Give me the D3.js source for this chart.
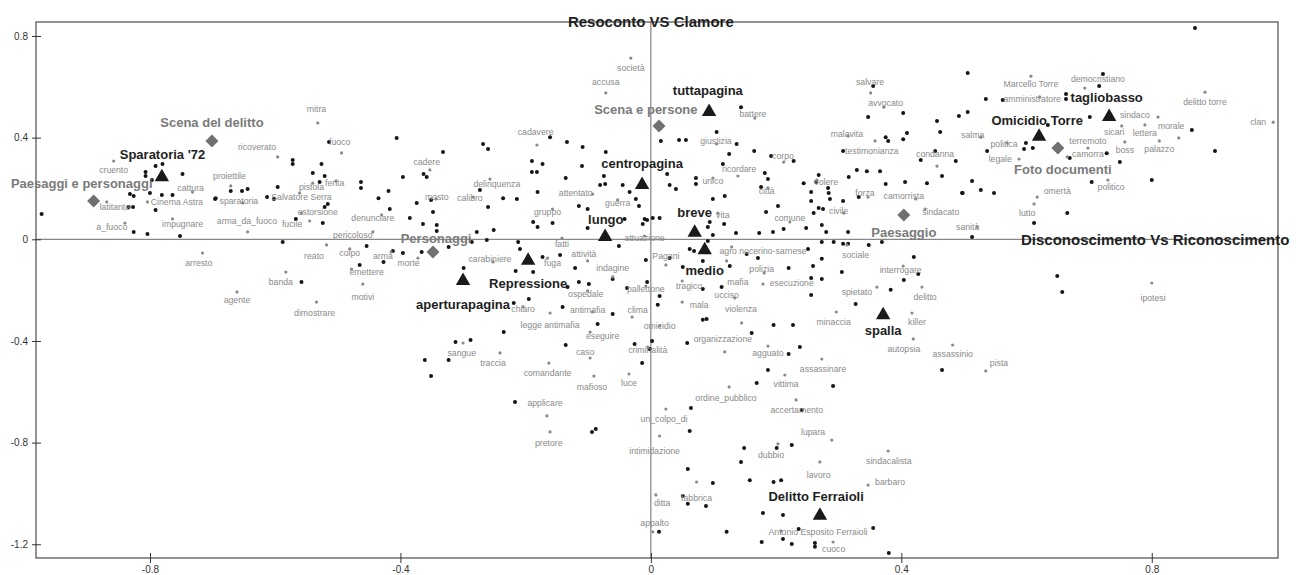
<!DOCTYPE html>
<html><head><meta charset="utf-8">
<script src="https://cdn.jsdelivr.net/npm/d3@7"></script>
<style>
html,body{margin:0;padding:0;background:#fff;}
svg{display:block;font-family:"Liberation Sans",Arial,sans-serif;}
</style></head>
<body>
<svg id="chart" width="1296" height="575"></svg>
<script>
// ---- axis ticks & titles ----
const xTicks = [-0.8, -0.4, 0, 0.4, 0.8];
const yTicks = [0.8, 0.4, 0, -0.4, -0.8, -1.2];
const xTitle = "Disconoscimento Vs Riconoscimento";
const yTitle = "Resoconto VS Clamore";
const xDomain = [-0.982, 1.0016];
const yDomain = [0.855, -1.254];

// ---- supplementary modalities (triangles): [label, x, y, labelX, labelY] ----
const pageCats = [
  ["Sparatoria '72", -0.781, 0.245, -0.780, 0.332],
  ["tuttapagina", 0.093, 0.502, 0.091, 0.587],
  ["centropagina", -0.014, 0.214, -0.014, 0.300],
  ["tagliobasso", 0.732, 0.482, 0.728, 0.560],
  ["Omicidio Torre", 0.620, 0.404, 0.617, 0.469],
  ["lungo", -0.073, 0.010, -0.072, 0.080],
  ["breve", 0.070, 0.026, 0.070, 0.107],
  ["medio", 0.086, -0.042, 0.086, -0.121],
  ["Repressione", -0.196, -0.084, -0.196, -0.172],
  ["aperturapagina", -0.300, -0.163, -0.300, -0.258],
  ["spalla", 0.371, -0.298, 0.371, -0.357],
  ["Delitto Ferraioli", 0.270, -1.087, 0.264, -1.010]
];

// ---- themes (diamonds): [label, x, y, labelX, labelY] ----
const themes = [
  ["Scena del delitto", -0.701, 0.387, -0.701, 0.458],
  ["Paesaggi e personaggi", -0.890, 0.151, -0.909, 0.221],
  ["Scena e persone", 0.013, 0.446, -0.008, 0.509],
  ["Personaggi", -0.348, -0.050, -0.343, 0.005],
  ["Paesaggio", 0.404, 0.096, 0.404, 0.025],
  ["Foto documenti", 0.650, 0.359, 0.658, 0.273]
];

// ---- labelled words (grey): [word, x, y, labelX, labelY] ----
const words = [
  ["società",-0.032,0.713,-0.032,0.674],["accusa",-0.072,0.576,-0.072,0.619],
  ["mitra",-0.532,0.458,-0.534,0.513],["ricoverato",-0.596,0.324,-0.629,0.363],
  ["cruento",-0.858,0.308,-0.858,0.273],["proiettile",-0.671,0.210,-0.673,0.249],
  ["cattura",-0.732,0.186,-0.735,0.202],["pistola",-0.540,0.221,-0.542,0.206],
  ["Salvatore Serra",-0.561,0.182,-0.558,0.166],["ferita",-0.503,0.229,-0.505,0.221],
  ["fuoco",-0.494,0.340,-0.497,0.383],["cadere",-0.353,0.273,-0.358,0.304],
  ["delinquenza",-0.257,0.237,-0.246,0.218],["cadavere",-0.182,0.371,-0.184,0.422],
  ["attentato",-0.093,0.178,-0.120,0.182],["calibro",-0.284,0.166,-0.289,0.162],
  ["mosto",-0.343,0.159,-0.342,0.166],["giustizia",0.105,0.375,0.104,0.387],
  ["battere",0.166,0.477,0.163,0.493],["corpo",0.212,0.304,0.211,0.328],
  ["ricordare",0.139,0.249,0.141,0.277],["unico",0.099,0.241,0.099,0.229],
  ["città",0.187,0.202,0.185,0.190],["volere",0.265,0.233,0.280,0.225],
  ["salvare",0.351,0.576,0.350,0.619],["avvocato",0.372,0.520,0.375,0.536],
  ["malavita",0.315,0.406,0.313,0.414],["testimonianza",0.358,0.387,0.353,0.347],
  ["condanna",0.457,0.288,0.454,0.336],["forza",0.347,0.166,0.342,0.182],
  ["camorrista",0.423,0.159,0.404,0.170],["Marcello Torre",0.607,0.642,0.607,0.611],
  ["democristiano",0.693,0.595,0.714,0.631],["amministratore",0.621,0.560,0.609,0.552],
  ["sindaco",0.810,0.481,0.773,0.489],["sicari",0.752,0.446,0.740,0.422],
  ["lettera",0.789,0.450,0.789,0.418],["morale",0.843,0.399,0.831,0.446],
  ["delitto torre",0.885,0.579,0.885,0.540],["clan",0.994,0.461,0.970,0.461],
  ["salma",0.527,0.402,0.514,0.410],["politica",0.569,0.379,0.564,0.375],
  ["terremoto",0.698,0.359,0.698,0.387],["legale",0.588,0.316,0.558,0.316],
  ["camorra",0.665,0.324,0.698,0.336],["boss",0.757,0.383,0.757,0.351],
  ["palazzo",0.812,0.387,0.812,0.355],["politico",0.730,0.233,0.735,0.206],
  ["omertà",0.617,0.166,0.649,0.190],["lutto",0.612,0.139,0.601,0.103],
  ["sanità",0.521,0.048,0.506,0.048],["latitante",-0.869,0.147,-0.856,0.127],
  ["Cinema Astra",-0.804,0.147,-0.757,0.147],["sparatoria",-0.652,0.143,-0.658,0.151],
  ["a_fuoco",-0.840,0.064,-0.861,0.048],["impugnare",-0.764,0.080,-0.748,0.060],
  ["arma_da_fuoco",-0.644,0.029,-0.645,0.072],["fucile",-0.545,0.072,-0.573,0.060],
  ["estorsione",-0.558,0.103,-0.532,0.107],["arresto",-0.716,-0.054,-0.722,-0.093],
  ["reato",-0.518,-0.022,-0.538,-0.066],["banda",-0.583,-0.129,-0.591,-0.168],
  ["agente",-0.661,-0.207,-0.661,-0.239],["dimostrare",-0.534,-0.247,-0.537,-0.290],
  ["pericoloso",-0.444,0.029,-0.476,0.017],["denunciare",-0.430,0.096,-0.444,0.084],
  ["colpo",-0.481,-0.038,-0.481,-0.054],["arma",-0.415,-0.050,-0.428,-0.066],
  ["morte",-0.372,-0.074,-0.387,-0.093],["emettere",-0.478,-0.117,-0.454,-0.129],
  ["motivi",-0.460,-0.176,-0.460,-0.227],["carabiniere",-0.252,-0.089,-0.257,-0.077],
  ["fatti",-0.142,0.005,-0.142,-0.018],["fuga",-0.165,-0.074,-0.157,-0.093],
  ["attività",-0.101,-0.085,-0.107,-0.058],["indagine",-0.061,-0.148,-0.061,-0.113],
  ["ospedale",-0.101,-0.203,-0.104,-0.215],["antimafia",-0.093,-0.286,-0.101,-0.278],
  ["chiaro",-0.204,-0.266,-0.204,-0.274],["legge antimafia",-0.161,-0.290,-0.161,-0.337],
  ["eseguire",-0.097,-0.365,-0.077,-0.380],["pallettone",-0.008,-0.184,-0.008,-0.196],
  ["clima",-0.030,-0.306,-0.021,-0.278],["caso",-0.097,-0.467,-0.105,-0.443],
  ["criminalità",-0.005,-0.424,-0.005,-0.436],["sangue",-0.300,-0.408,-0.302,-0.447],
  ["traccia",-0.241,-0.447,-0.252,-0.487],["comandante",-0.163,-0.487,-0.165,-0.526],
  ["gruppo",-0.157,0.119,-0.165,0.107],["guerra",-0.053,0.155,-0.053,0.143],
  ["attuazione",-0.010,0.013,-0.010,0.005],["vita",0.107,0.103,0.115,0.096],
  ["comune",0.222,0.068,0.222,0.084],["civile",0.308,0.103,0.300,0.111],
  ["sindacato",0.438,0.119,0.463,0.107],["agro nocerino-sarnese",0.129,-0.030,0.179,-0.046],
  ["Pagani",0.024,-0.101,0.024,-0.066],["polizia",0.181,-0.133,0.177,-0.117],
  ["sociale",0.313,-0.022,0.327,-0.062],["mafia",0.121,-0.085,0.139,-0.168],
  ["esecuzione",0.179,-0.176,0.225,-0.172],["tragico",0.050,-0.164,0.061,-0.184],
  ["ucciso",0.134,-0.231,0.121,-0.219],["mala",0.050,-0.247,0.077,-0.258],
  ["violenza",0.145,-0.329,0.144,-0.274],["omicidio",0.014,-0.341,0.014,-0.341],
  ["interrogare",0.403,-0.105,0.399,-0.121],["spietato",0.361,-0.188,0.329,-0.207],
  ["delitto",0.433,-0.188,0.438,-0.227],["minaccia",0.296,-0.286,0.292,-0.325],
  ["killer",0.417,-0.290,0.425,-0.325],["organizzazione",0.118,-0.443,0.115,-0.392],
  ["agguato",0.187,-0.420,0.187,-0.447],["autopsia",0.419,-0.392,0.404,-0.432],
  ["assassinare",0.273,-0.471,0.275,-0.510],["assassinio",0.482,-0.416,0.482,-0.451],
  ["ipotesi",0.800,-0.172,0.802,-0.231],["pista",0.535,-0.518,0.556,-0.487],
  ["mafioso",-0.091,-0.538,-0.094,-0.581],["luce",-0.035,-0.530,-0.035,-0.565],
  ["applicare",-0.166,-0.695,-0.169,-0.644],["pretore",-0.161,-0.758,-0.163,-0.801],
  ["un_colpo_di",0.024,-0.668,0.021,-0.707],["intimidazione",0.014,-0.774,0.006,-0.833],
  ["ditta",0.008,-1.006,0.018,-1.037],["fabbrica",0.073,-0.955,0.073,-1.018],
  ["appalto",0.003,-1.151,0.006,-1.116],["ordine_pubblico",0.125,-0.581,0.120,-0.624],
  ["vittima",0.214,-0.534,0.216,-0.569],["accertamento",0.232,-0.632,0.233,-0.672],
  ["lupara",0.289,-0.790,0.259,-0.758],["dubbio",0.203,-0.805,0.192,-0.849],
  ["sindacalista",0.379,-0.833,0.380,-0.872],["lavoro",0.270,-0.876,0.268,-0.927],
  ["barbaro",0.347,-0.967,0.382,-0.955],["Antonio Esposito Ferraioli",0.208,-1.148,0.267,-1.152],
  ["cuoco",0.291,-1.191,0.292,-1.218]
];

// ---- unlabelled words (black dots): [x, y] ----
const unlabeled = [
  [-0.514,0.383],[-0.572,0.312],[-0.572,0.296],[-0.526,0.296],[-0.540,0.261],[-0.521,0.249],
  [-0.748,0.257],[-0.791,0.288],[-0.780,0.296],[-0.807,0.265],[-0.807,0.249],[-0.797,0.233],
  [-0.671,0.190],[-0.653,0.190],[-0.644,0.198],[-0.596,0.206],[-0.832,0.178],[-0.826,0.170],
  [-0.800,0.182],[-0.781,0.174],[-0.764,0.174],[-0.695,0.162],[-0.529,0.225],[-0.973,0.100],
  [-0.834,0.127],[-0.827,0.127],[-0.791,0.115],[-0.696,0.159],[-0.613,0.166],[-0.602,0.159],
  [-0.521,0.127],[-0.516,0.139],[-0.567,0.080],[-0.524,0.064],[-0.826,0.029],[-0.804,0.021],
  [-0.752,0.013],[-0.588,-0.011],[-0.558,-0.168],
  [-0.406,0.399],[-0.332,0.343],[-0.268,0.375],[-0.260,0.355],[-0.134,0.383],[-0.161,0.402],
  [-0.109,0.363],[-0.072,0.343],[-0.190,0.308],[-0.173,0.296],[-0.190,0.265],[-0.182,0.265],
  [-0.110,0.288],[-0.075,0.249],[-0.081,0.214],[-0.073,0.218],[-0.045,0.214],[-0.034,0.186],
  [-0.136,0.241],[-0.463,0.225],[-0.463,0.202],[-0.396,0.245],[-0.419,0.190],[-0.363,0.257],
  [-0.358,0.245],[-0.273,0.194],[-0.181,0.186],[-0.435,0.162],[-0.236,0.162],[-0.214,0.159],
  [-0.374,0.143],[-0.351,0.155],[-0.260,0.127],[-0.115,0.131],[-0.101,0.119],[-0.024,0.159],
  [-0.019,0.131],[-0.417,0.119],[-0.385,0.084],[-0.348,0.107],[-0.364,0.060],[-0.342,0.056],
  [-0.342,0.033],[-0.251,0.037],[-0.278,0.029],[-0.188,0.068],[-0.181,0.048],[-0.157,0.064],
  [-0.101,0.044],[-0.042,0.080],[-0.010,0.080],[-0.262,-0.003],[-0.286,-0.011],[-0.323,-0.030],
  [-0.366,-0.050],[-0.396,-0.054],[-0.412,-0.046],[-0.454,-0.026],[-0.212,-0.011],[-0.209,-0.038],
  [-0.145,-0.062],[-0.051,-0.026],[-0.008,-0.081],[-0.173,-0.070],[-0.121,-0.113],[-0.216,-0.125],
  [-0.188,-0.129],[-0.299,-0.113],[-0.465,-0.101],[-0.427,-0.089],[-0.115,-0.168],[-0.099,-0.176],
  [-0.133,-0.188],[-0.061,-0.156],[-0.038,-0.192],[-0.219,-0.251],[-0.195,-0.235],[-0.141,-0.266],
  [-0.061,-0.294],[-0.235,-0.365],[-0.085,-0.333],[-0.136,-0.416],[-0.026,-0.412],[-0.014,-0.487],
  [-0.312,-0.404],[-0.288,-0.396],[-0.361,-0.475],[-0.323,-0.475],[-0.351,-0.538],
  [0.099,0.159],[0.118,0.170],[0.203,0.131],[0.184,0.107],[0.256,0.151],[0.284,0.182],
  [0.286,0.159],[0.268,0.123],[0.275,0.119],[0.307,0.151],[0.332,0.166],[0.260,0.103],
  [-0.006,0.076],[0.003,0.084],[0.014,0.084],[-0.013,0.060],[0.094,0.068],[0.091,0.048],
  [0.117,0.060],[0.099,0.017],[0.136,0.025],[0.173,0.025],[0.195,0.029],[0.212,0.041],
  [0.248,0.044],[0.273,0.056],[0.280,0.029],[0.315,0.029],[0.062,-0.038],[0.069,-0.046],
  [0.091,-0.007],[0.273,-0.011],[0.292,-0.011],[0.307,-0.018],[0.315,-0.018],[0.348,-0.022],
  [0.369,-0.011],[0.420,-0.070],[0.030,-0.074],[0.051,-0.109],[0.083,-0.085],[0.126,-0.105],
  [0.153,-0.058],[0.171,-0.074],[0.251,-0.038],[0.273,-0.077],[0.220,-0.113],[0.259,-0.105],
  [0.273,-0.156],[0.256,-0.152],[0.305,-0.129],[0.404,-0.160],[0.427,-0.137],[0.383,-0.199],
  [-0.006,-0.168],[0.014,-0.223],[0.083,-0.196],[0.113,-0.188],[0.256,-0.219],[0.327,-0.255],
  [0.011,-0.258],[0.083,-0.317],[0.089,-0.314],[0.196,-0.337],[0.227,-0.337],[0.161,-0.369],
  [0.002,-0.400],[-0.002,-0.432],[0.058,-0.408],[0.220,-0.451],[0.238,-0.424],[0.187,-0.514],
  [0.465,-0.514],
  [0.105,0.422],[0.016,0.387],[0.045,0.391],[0.056,0.391],[0.137,0.375],[0.125,0.336],
  [0.165,0.347],[0.192,0.328],[0.228,0.308],[0.347,0.481],[0.403,0.497],[0.375,0.402],
  [0.379,0.387],[0.409,0.418],[0.403,0.394],[0.457,0.465],[0.462,0.422],[0.492,0.485],
  [0.506,0.501],[0.506,0.654],[0.454,0.347],[0.487,0.308],[0.431,0.312],[0.465,0.249],
  [0.026,0.257],[0.030,0.214],[0.040,0.198],[0.072,0.241],[0.072,0.218],[0.115,0.296],
  [0.182,0.261],[0.187,0.237],[0.176,0.206],[0.244,0.221],[0.268,0.253],[0.264,0.225],
  [0.316,0.245],[0.329,0.273],[0.345,0.268],[0.366,0.268],[0.375,0.218],[0.406,0.225],
  [0.441,0.221],[0.497,0.182],[0.256,0.186],[0.283,0.202],[0.307,0.347],[0.355,0.603],
  [0.144,0.520],
  [0.869,0.831],[0.722,0.650],[0.716,0.603],[0.663,0.572],[0.663,0.552],[0.535,0.552],
  [0.562,0.548],[0.701,0.481],[0.634,0.450],[0.864,0.430],[0.599,0.379],[0.596,0.355],
  [0.610,0.359],[0.537,0.347],[0.901,0.347],[0.728,0.339],[0.749,0.304],[0.513,0.229],
  [0.704,0.225],[0.800,0.233],[0.498,0.182],[0.527,0.194],[0.548,0.182],[0.669,0.320],
  [0.612,0.064],[0.665,0.103],[0.513,0.009],[0.649,-0.144],[0.657,-0.207],
  [0.169,-0.565],[0.291,-0.577],[0.064,-0.664],[0.241,-0.672],[0.062,-0.754],[0.149,-0.821],
  [0.201,-0.821],[0.225,-0.809],[0.144,-0.876],[0.059,-0.904],[0.099,-0.959],[0.158,-0.948],
  [0.196,-0.955],[0.208,-0.948],[0.059,-1.041],[0.088,-1.049],[0.051,-1.010],[0.179,-1.077],
  [0.211,-1.085],[0.013,-1.151],[0.121,-1.151],[0.236,-1.140],[0.355,-1.136],[0.177,-1.191],
  [0.211,-1.179],[0.225,-1.199],[0.262,-1.195],[0.262,-1.210],[0.380,-1.234],
  [-0.217,-0.640],[-0.094,-0.758],[-0.088,-0.746]
];

// ---------------- drawing ----------------
const svg = d3.select("#chart");
const x = d3.scaleLinear().domain(xDomain).range([36, 1278]);
const y = d3.scaleLinear().domain(yDomain).range([22, 558]);
const fmt = d => d === 0 ? "0" : String(d);

// zero lines
svg.append("line").attr("x1", x.range()[0]).attr("x2", x.range()[1])
  .attr("y1", y(0)).attr("y2", y(0)).attr("stroke", "#6a6a6a").attr("stroke-width", 1);
svg.append("line").attr("x1", x(0)).attr("x2", x(0))
  .attr("y1", y.range()[0]).attr("y2", y.range()[1]).attr("stroke", "#6a6a6a").attr("stroke-width", 1);

// frame
svg.append("rect").attr("x", x.range()[0]).attr("y", y.range()[0])
  .attr("width", x.range()[1] - x.range()[0]).attr("height", y.range()[1] - y.range()[0])
  .attr("fill", "none").attr("stroke", "#5a5a5a").attr("stroke-width", 1.3);

// axes
const gy = svg.append("g").attr("transform", `translate(${x.range()[0]},0)`)
  .call(d3.axisLeft(y).tickValues(yTicks).tickFormat(fmt).tickSize(4).tickPadding(4));
gy.select(".domain").remove();
gy.selectAll(".tick line").attr("x1", 5).attr("stroke", "#333");
gy.selectAll(".tick text").attr("font-size", 10).attr("fill", "#333")
  .attr("font-family", "'Liberation Sans',Arial,sans-serif");

const gx = svg.append("g").attr("transform", `translate(0,${y.range()[1]})`)
  .call(d3.axisBottom(x).tickValues(xTicks).tickFormat(fmt).tickSize(5).tickPadding(3));
gx.select(".domain").remove();
gx.selectAll(".tick line").attr("y1", -5).attr("stroke", "#333");
gx.selectAll(".tick text").attr("font-size", 10).attr("fill", "#333")
  .attr("font-family", "'Liberation Sans',Arial,sans-serif");

// unlabeled black dots
svg.append("g").selectAll("circle").data(unlabeled).join("circle")
  .attr("cx", d => x(d[0])).attr("cy", d => y(d[1])).attr("r", 2).attr("fill", "#151515");

// grey word dots + labels
svg.append("g").selectAll("circle").data(words).join("circle")
  .attr("cx", d => x(d[1])).attr("cy", d => y(d[2])).attr("r", 1.6).attr("fill", "#8a8a8a");
svg.append("g").selectAll("text").data(words).join("text")
  .attr("x", d => x(d[3])).attr("y", d => y(d[4])).attr("dy", "0.32em")
  .attr("text-anchor", "middle").attr("font-size", 8.7).attr("fill", "#8a8a8a")
  .text(d => d[0]);

// diamonds (themes)
const diamond = "M0,-6.5L6.5,0L0,6.5L-6.5,0Z";
svg.append("g").selectAll("path").data(themes).join("path")
  .attr("d", diamond).attr("transform", d => `translate(${x(d[1])},${y(d[2])})`)
  .attr("fill", "#707070");
svg.append("g").selectAll("text").data(themes).join("text")
  .attr("x", d => x(d[3])).attr("y", d => y(d[4])).attr("dy", "0.35em")
  .attr("text-anchor", "middle").attr("font-size", 13).attr("font-weight", "bold")
  .attr("fill", "#7a7a7a").text(d => d[0]);

// triangles (page categories)
const tri = d3.symbol(d3.symbolTriangle, 90);
svg.append("g").selectAll("path").data(pageCats).join("path")
  .attr("d", tri).attr("transform", d => `translate(${x(d[1])},${y(d[2])})`)
  .attr("fill", "#1a1a1a");
svg.append("g").selectAll("text").data(pageCats).join("text")
  .attr("x", d => x(d[3])).attr("y", d => y(d[4])).attr("dy", "0.35em")
  .attr("text-anchor", "middle").attr("font-size", 13).attr("font-weight", "bold")
  .attr("fill", "#1e1e1e").text(d => d[0]);

// axis titles
svg.append("text").attr("x", x(0)).attr("y", y.range()[0]).attr("dy", "0.35em")
  .attr("text-anchor", "middle").attr("font-size", 15).attr("font-weight", "bold")
  .attr("fill", "#1e1e1e").text(yTitle);
svg.append("text").attr("x", 1021).attr("y", y(0)).attr("dy", "0.35em")
  .attr("text-anchor", "start").attr("font-size", 15).attr("font-weight", "bold")
  .attr("fill", "#1e1e1e").text(xTitle);
</script>
</body></html>
